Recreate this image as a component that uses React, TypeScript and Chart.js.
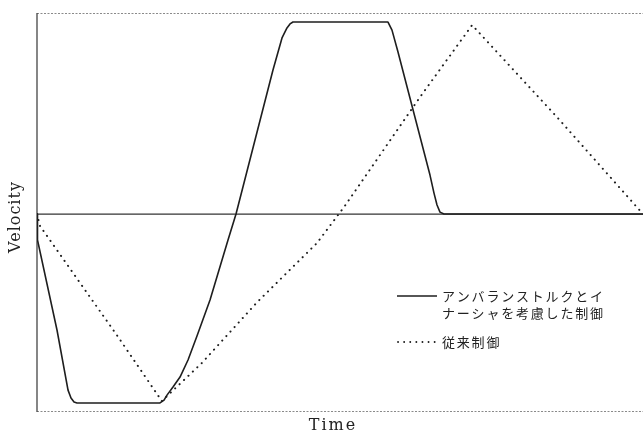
import React, { useEffect, useRef } from "react";
import { Chart, registerables } from "chart.js";

Chart.register(...registerables);

// Time axis (0..100) and normalized velocity values
const solidTime = [0, 0.08, 3.3, 5.12, 5.61, 6.11, 6.6, 20.3, 20.96, 21.45, 22.44, 23.6, 24.92, 26.4, 28.55, 31.52, 32.84, 38.94, 40.43, 41.25, 41.75, 42.24, 57.92, 58.58, 59.57, 64.85, 65.51, 66.01, 66.5, 67.16, 100];
const solidVelocity = [0, -0.135, -0.604, -0.917, -0.958, -0.979, -0.984, -0.984, -0.969, -0.943, -0.901, -0.849, -0.76, -0.635, -0.448, -0.135, 0, 0.75, 0.917, 0.969, 0.99, 1.0, 1.0, 0.958, 0.844, 0.203, 0.109, 0.047, 0.01, 0, 0];

const dottedTime = [0, 0.5, 13.4, 20.6, 27.2, 36.3, 46.2, 50.8, 63.2, 71.8, 85.8, 100];
const dottedVelocity = [0, -0.0625, -0.641, -0.974, -0.776, -0.46, -0.151, 0.042, 0.609, 0.984, 0.505, 0];

const xLabel = "Time";
const yLabel = "Velocity";
const legendSolid = ["アンバランストルクとイ", "ナーシャを考慮した制御"];
const legendDotted = ["従来制御"];

const X_MIN = 0;
const X_MAX = 100;
const Y_MIN = -1.031;
const Y_MAX = 1.047;

const INK = "#1e1e1e";

export default function App() {
  const ref = useRef<HTMLCanvasElement | null>(null);

  useEffect(() => {
    if (!ref.current) return;
    const decor = {
      id: "decor",
      beforeDatasetsDraw(chart: any) {
        const { ctx, chartArea: a, scales } = chart;
        const y0 = scales.y.getPixelForValue(0);
        ctx.save();
        // top / bottom dotted frame
        ctx.strokeStyle = "#8a8a8a";
        ctx.lineWidth = 1;
        ctx.setLineDash([2, 1.5]);
        ctx.beginPath();
        ctx.moveTo(a.left, a.top + 0.5);
        ctx.lineTo(a.right, a.top + 0.5);
        ctx.moveTo(a.left, a.bottom - 0.5);
        ctx.lineTo(a.right, a.bottom - 0.5);
        ctx.stroke();
        ctx.setLineDash([]);
        // left axis
        ctx.strokeStyle = "#444";
        ctx.lineWidth = 1.3;
        ctx.beginPath();
        ctx.moveTo(a.left, a.top);
        ctx.lineTo(a.left, a.bottom);
        ctx.stroke();
        // zero line
        ctx.strokeStyle = "#333";
        ctx.lineWidth = 1.3;
        ctx.beginPath();
        ctx.moveTo(a.left, y0);
        ctx.lineTo(a.right, y0);
        ctx.stroke();
        ctx.restore();
      },
      afterDraw(chart: any) {
        const { ctx, chartArea: a } = chart;
        ctx.save();
        ctx.fillStyle = "#222";
        // axis titles
        ctx.font = "16px 'DejaVu Serif'";
        ctx.textAlign = "center";
        ctx.textBaseline = "middle";
        (ctx as any).letterSpacing = "2px";
        ctx.fillText(xLabel, 333, a.bottom + 14);
        (ctx as any).letterSpacing = "1px";
        ctx.save();
        ctx.translate(16, 217);
        ctx.rotate(-Math.PI / 2);
        ctx.fillText(yLabel, 0, 0);
        ctx.restore();
        (ctx as any).letterSpacing = "0px";

        // legend
        const lx0 = 397, lx1 = 437, tx = 442, pitch = 14.8;
        ctx.strokeStyle = INK;
        ctx.lineWidth = 1.5;
        ctx.beginPath();
        ctx.moveTo(lx0, 296);
        ctx.lineTo(lx1, 296);
        ctx.stroke();
        ctx.lineCap = "round";
        ctx.lineWidth = 1.8;
        ctx.setLineDash([0.1, 6]);
        ctx.beginPath();
        ctx.moveTo(lx0 + 1, 342);
        ctx.lineTo(lx1, 342);
        ctx.stroke();
        ctx.setLineDash([]);
        ctx.font = "13px 'Noto Sans CJK JP'";
        ctx.textAlign = "left";
        const drawSpaced = (s: string, x: number, y: number) => {
          Array.from(s).forEach((ch, i) => ctx.fillText(ch, x + i * pitch, y));
        };
        drawSpaced(legendSolid[0], tx, 296);
        drawSpaced(legendSolid[1], tx, 313);
        drawSpaced(legendDotted[0], tx, 342);
        ctx.restore();
      },
    };

    const chart = new Chart(ref.current, {
      type: "line",
      data: {
        datasets: [
          {
            label: legendSolid.join(""),
            data: solidTime.map((t, i) => ({ x: t, y: solidVelocity[i] })),
            borderColor: INK,
            borderWidth: 1.6,
            borderJoinStyle: "round",
            pointRadius: 0,
            tension: 0,
            fill: false,
          },
          {
            label: legendDotted[0],
            data: dottedTime.map((t, i) => ({ x: t, y: dottedVelocity[i] })),
            borderColor: INK,
            borderWidth: 2,
            borderDash: [0.1, 6],
            borderCapStyle: "round",
            pointRadius: 0,
            tension: 0,
            fill: false,
          },
        ],
      },
      options: {
        animation: false,
        responsive: false,
        maintainAspectRatio: false,
        layout: { padding: { left: 37, top: 13, right: 0, bottom: 26 } },
        plugins: { legend: { display: false }, tooltip: { enabled: false } },
        scales: {
          x: { type: "linear", min: X_MIN, max: X_MAX, display: false },
          y: { type: "linear", min: Y_MIN, max: Y_MAX, display: false },
        },
      },
      plugins: [decor],
    } as any);
    return () => chart.destroy();
  }, []);

  return (
    <div style={{ position: "fixed", left: 0, top: 0, width: 643, height: 438, background: "#fff" }}>
      <canvas ref={ref} width={643} height={438} />
    </div>
  );
}
